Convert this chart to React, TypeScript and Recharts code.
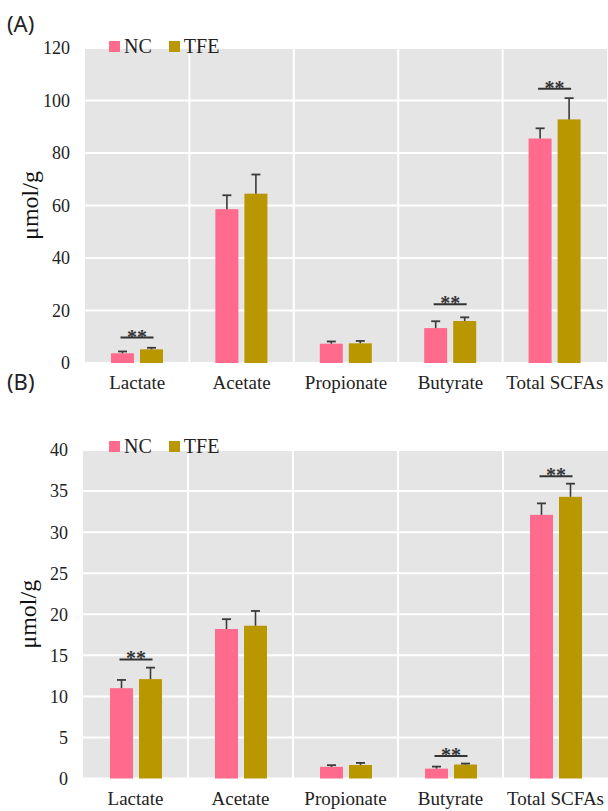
import React from "react"
import { Bar, BarChart, CartesianGrid, Legend, XAxis, YAxis } from "recharts"

const categories = ["Lactate", "Acetate", "Propionate", "Butyrate", "Total SCFAs"]

// panel (A)
const ncA = [3.7, 58.6, 7.35, 13.3, 85.5]
const ncErrA = [0.7, 5.3, 0.85, 2.6, 3.9]
const tfeA = [5.2, 64.5, 7.5, 16.0, 92.8]
const tfeErrA = [0.6, 7.3, 0.9, 1.4, 8.1]
const sigA: (number | null)[] = [9.7, null, null, 22.4, 104.5]
const ticksA = [0, 20, 40, 60, 80, 100, 120]

// panel (B)
const ncB = [11.0, 18.2, 1.42, 1.2, 32.1]
const ncErrB = [1.0, 1.2, 0.2, 0.25, 1.4]
const tfeB = [12.1, 18.6, 1.65, 1.7, 34.3]
const tfeErrB = [1.4, 1.8, 0.25, 0.12, 1.6]
const sigB: (number | null)[] = [14.5, null, null, 2.75, 36.8]
const ticksB = [0, 5, 10, 15, 20, 25, 30, 35, 40]

const PINK = "#FF6A8D"
const GOLD = "#B99700"
const SERIF = "'Liberation Serif', 'Times New Roman', serif"
const BAR_SIZE = 23
const BAR_GAP = 6

type Row = { name: string; nc: number; ncErr: number; tfe: number; tfeErr: number; sig: number | null }

const build = (nc: number[], ncErr: number[], tfe: number[], tfeErr: number[], sig: (number | null)[]): Row[] =>
  categories.map((name, i) => ({ name, nc: nc[i], ncErr: ncErr[i], tfe: tfe[i], tfeErr: tfeErr[i], sig: sig[i] }))

const dataA = build(ncA, ncErrA, tfeA, tfeErrA, sigA)
const dataB = build(ncB, ncErrB, tfeB, tfeErrB, sigB)

// bar + upper half error bar (+ significance bracket on the second bar)
function barShape(color: string, key: "nc" | "tfe", withSig: boolean) {
  return (props: any) => {
    const { x, y, width, height, payload } = props
    const v = payload[key] as number
    const err = payload[key + "Err"] as number
    const ppu = v ? height / v : 0
    const cx = x + width / 2
    const bottom = y + height
    const ey = y - err * ppu
    const sig = payload.sig as number | null
    const sy = sig != null ? bottom - sig * ppu : 0
    return (
      <g>
        <rect x={x} y={y} width={width} height={height} fill={color} />
        <line x1={cx} x2={cx} y1={y} y2={ey} stroke="#3a3a3a" strokeWidth={1.6} />
        <line x1={cx - 4.5} x2={cx + 4.5} y1={ey} y2={ey} stroke="#3a3a3a" strokeWidth={1.8} />
        {withSig && sig != null && (
          <g>
            <line
              x1={cx - width - BAR_GAP - 2}
              x2={cx + 2}
              y1={sy}
              y2={sy}
              stroke="#333"
              strokeWidth={2}
            />
            <text
              x={cx - (width + BAR_GAP) / 2}
              y={sy + 6}
              textAnchor="middle"
              fontFamily={SERIF}
              fontSize={20}
              fontWeight="bold"
              fill="#333"
            >
              **
            </text>
          </g>
        )}
      </g>
    )
  }
}

const legendContent = () => (
  <div style={{ display: "flex", alignItems: "center", fontFamily: SERIF, fontSize: 20, color: "#222" }}>
    <span style={{ width: 11, height: 11, background: PINK, display: "inline-block", marginRight: 4 }} />
    <span style={{ marginRight: 17 }}>NC</span>
    <span style={{ width: 11, height: 11, background: GOLD, display: "inline-block", marginRight: 4 }} />
    <span>TFE</span>
  </div>
)

function Panel(props: {
  data: Row[]
  ticks: number[]
  max: number
  height: number
  margin: { top: number; right: number; bottom: number; left: number }
  legendTop: number
}) {
  const { data, ticks, max, height, margin, legendTop } = props
  return (
    <BarChart
      width={608}
      height={height}
      data={data}
      margin={margin}
      barSize={BAR_SIZE}
      barGap={BAR_GAP}
    >
      <CartesianGrid
        fill="#E5E5E5"
        stroke="#FFFFFF"
        strokeWidth={2}
        verticalCoordinatesGenerator={({ offset }: any) =>
          [1, 2, 3, 4].map((i) => offset.left + (i * offset.width) / categories.length)
        }
      />
      <XAxis
        dataKey="name"
        axisLine={false}
        tickLine={false}
        tickSize={0}
        tickMargin={13}
        height={30}
        interval={0}
        tick={{ fontFamily: SERIF, fontSize: 19, fill: "#222" }}
      />
      <YAxis
        domain={[0, max]}
        ticks={ticks}
        axisLine={false}
        tickLine={false}
        tickSize={0}
        tickMargin={15}
        width={70}
        tick={{ fontFamily: SERIF, fontSize: 18, fill: "#222" }}
        label={{
          value: "μmol/g",
          angle: -90,
          position: "insideLeft",
          offset: 14,
          style: { textAnchor: "middle", fontFamily: SERIF, fontSize: 24, fill: "#111" },
        }}
      />
      <Legend
        verticalAlign="top"
        align="left"
        content={legendContent}
        wrapperStyle={{ top: legendTop, left: 109, width: "auto" }}
      />
      <Bar dataKey="nc" name="NC" fill={PINK} isAnimationActive={false} shape={barShape(PINK, "nc", false)} />
      <Bar dataKey="tfe" name="TFE" fill={GOLD} isAnimationActive={false} shape={barShape(GOLD, "tfe", true)} />
    </BarChart>
  )
}

const panelLabel: React.CSSProperties = {
  position: "absolute",
  left: 7,
  fontFamily: "'Noto Sans', 'DejaVu Sans', sans-serif",
  fontSize: 22,
  lineHeight: "22px",
  color: "#222",
}

export default function App() {
  return (
    <div style={{ position: "absolute", left: 0, top: 0, width: 608, height: 811, background: "#fff", overflow: "hidden" }}>
      <div style={{ position: "absolute", left: 0, top: 0 }}>
        <Panel
          data={dataA}
          ticks={ticksA}
          max={120}
          height={405}
          margin={{ top: 25, right: 1, bottom: 12, left: 15 }}
          legendTop={35}
        />
      </div>
      <div style={{ position: "absolute", left: 0, top: 400 }}>
        <Panel
          data={dataB}
          ticks={ticksB}
          max={40}
          height={411}
          margin={{ top: 27, right: 0, bottom: 2.5, left: 13 }}
          legendTop={35}
        />
      </div>
      <div style={{ ...panelLabel, top: 12 }}>(A)</div>
      <div style={{ ...panelLabel, top: 370 }}>(B)</div>
    </div>
  )
}
